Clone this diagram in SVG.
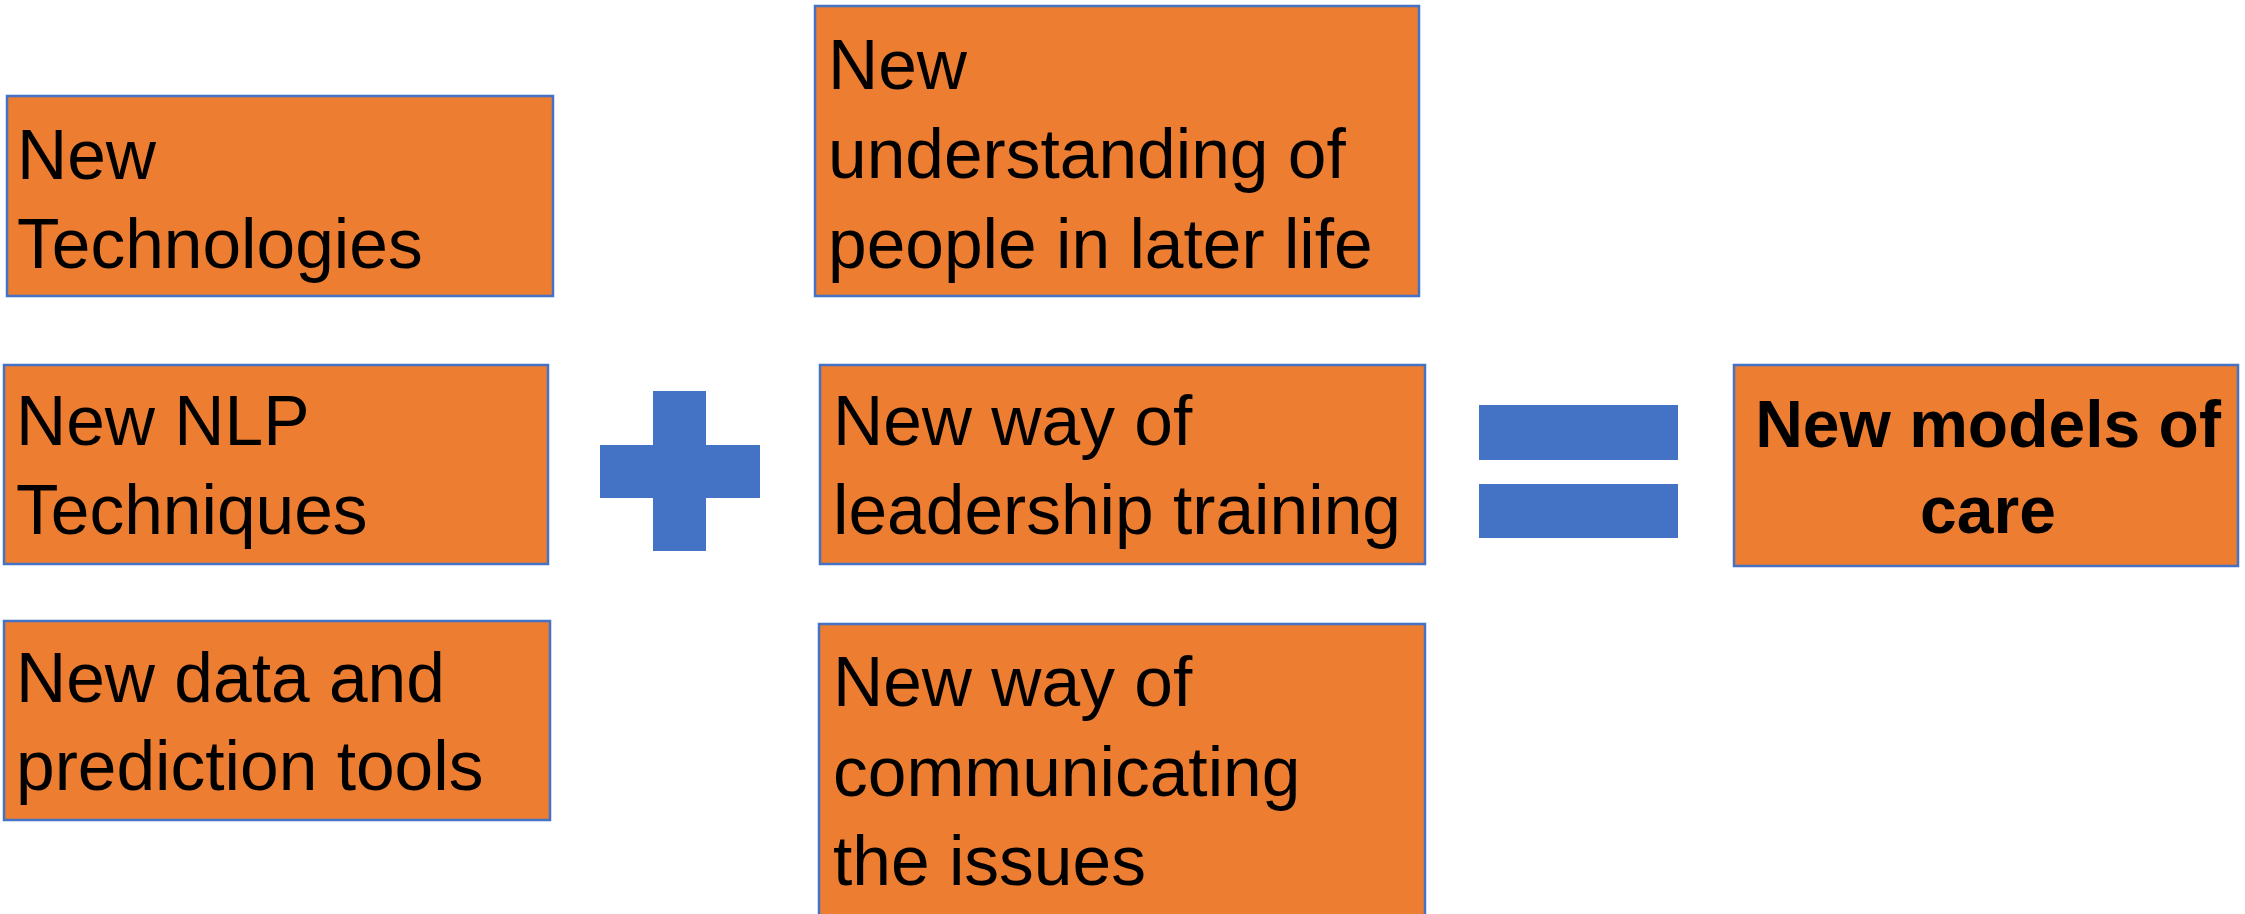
<svg xmlns="http://www.w3.org/2000/svg" width="2245" height="914" viewBox="0 0 2245 914">
<style>
.box{fill:#ED7D31;stroke:#4472C4;stroke-width:2.5}
.t{font-family:"Liberation Sans",Arial,sans-serif;font-size:69.5px;fill:#000}
.b{font-weight:bold;text-anchor:middle;font-size:66px}
.sym{fill:#4472C4}
</style>
<rect width="2245" height="914" fill="#fff"/>
<g id="n1"><rect class="box" x="7" y="96" width="546" height="200"/>
<text class="t" x="17" y="179">New</text><text class="t" x="17" y="268">Technologies</text></g>
<g id="n2"><rect class="box" x="4" y="365" width="544" height="199"/>
<text class="t" x="16" y="445">New NLP</text><text class="t" x="16" y="534">Techniques</text></g>
<g id="n3"><rect class="box" x="4" y="621" width="546" height="199"/>
<text class="t" x="16" y="702">New data and</text><text class="t" x="16" y="790">prediction tools</text></g>
<g id="n4"><rect class="box" x="815" y="6" width="604" height="290"/>
<text class="t" x="828" y="89">New</text><text class="t" x="828" y="178">understanding of</text><text class="t" x="828" y="268">people in later life</text></g>
<g id="n5"><rect class="box" x="820" y="365" width="605" height="199"/>
<text class="t" x="833" y="445">New way of</text><text class="t" x="833" y="534">leadership training</text></g>
<g id="n6"><rect class="box" x="819" y="624" width="606" height="295"/>
<text class="t" x="833" y="706">New way of</text><text class="t" x="833" y="796">communicating</text><text class="t" x="833" y="885">the issues</text></g>
<g id="n7"><rect class="box" x="1734" y="365" width="504" height="201"/>
<text class="t b" x="1988" y="447">New models of</text><text class="t b" x="1988" y="533">care</text></g>
<g id="connectors">
<g id="plus"><rect class="sym" x="653" y="391" width="53" height="160"/><rect class="sym" x="600" y="445" width="160" height="53"/></g>
<g id="equals"><rect class="sym" x="1479" y="405" width="199" height="55"/><rect class="sym" x="1479" y="484" width="199" height="54"/></g>
</g>
</svg>
